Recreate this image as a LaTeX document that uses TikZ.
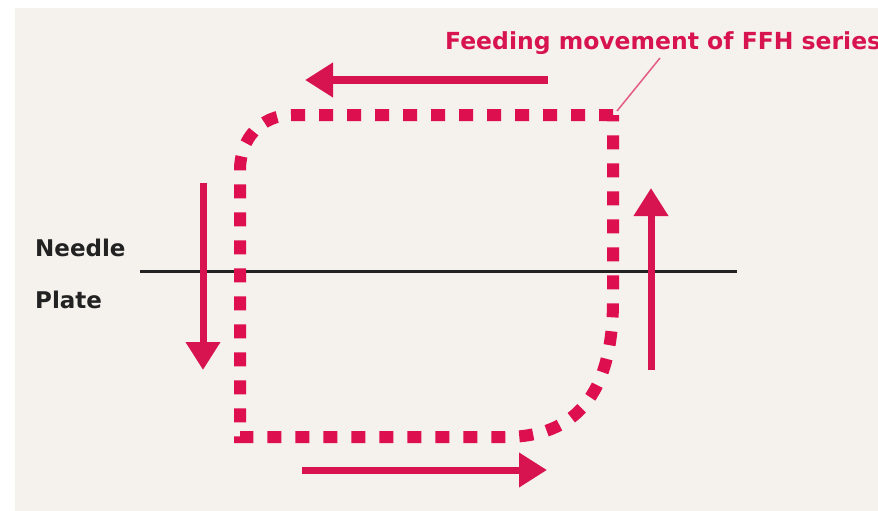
\documentclass[tikz,border=0pt]{standalone}
\usepackage{fontspec}
\setmainfont{DejaVu Sans}
\usepackage{tikz}
\usetikzlibrary{arrows.meta}
\definecolor{feedRed}{HTML}{D81450}
\definecolor{dotRed}{HTML}{DE0F4E}
\definecolor{bgCream}{HTML}{F5F1EC}
\definecolor{inkDark}{HTML}{222222}

\begin{document}
\begin{tikzpicture}[x=1pt, y=-1pt,
  feedarr/.style={-{Triangle[length=28pt, width=33pt]}, line width=7pt, feedRed},
  feedloop/.style={dotRed, line width=12pt, dash pattern=on 14pt off 14pt},
  lbl/.style={font=\fontsize{23}{26}\selectfont\bfseries, text=inkDark,
              anchor=base west, inner sep=0pt}
]
\useasboundingbox (0,0) rectangle (878,511);
\fill[bgCream] (15,8) rectangle (878,511);

% needle plate line
\coordinate (plateL) at (140,271);
\coordinate (plateR) at (737,271);
\draw[inkDark, line width=3pt] (plateL) -- (plateR);
\node[lbl] (needle) at (35,256) {Needle};
\node[lbl] (plate)  at (35,308) {Plate};

% feeding loop
\coordinate (tr) at (613,115);
\coordinate (bl) at (240,437);
\draw[feedloop] (tr) -- (292,115) .. controls (260,115) and (240,140) .. (240,170)
  -- (bl) -- (505,437) .. controls (575,437) and (613,395) .. (613,300) -- cycle;

% direction arrows
\coordinate (topS) at (548,80);
\coordinate (topE) at (305,80);
\coordinate (downS) at (203,183);
\coordinate (downE) at (203,370);
\coordinate (botS) at (302,470);
\coordinate (botE) at (547,470);
\coordinate (upS) at (651,370);
\coordinate (upE) at (651,188);
\draw[feedarr] (topS) -- (topE);
\draw[feedarr] (downS) -- (downE);
\draw[feedarr] (botS) -- (botE);
\draw[feedarr] (upS) -- (upE);

% caption
\node[font=\fontsize{23.5}{26}\selectfont\bfseries, text=feedRed,
      anchor=base west, inner sep=0pt] (title) at (445,49)
  {Feeding movement of FFH series};
\coordinate (tip) at (660,58);
\draw[feedRed!70, line width=1.5pt] (tip) -- ([shift={(4,-4)}]tr);
\end{tikzpicture}
\end{document}
